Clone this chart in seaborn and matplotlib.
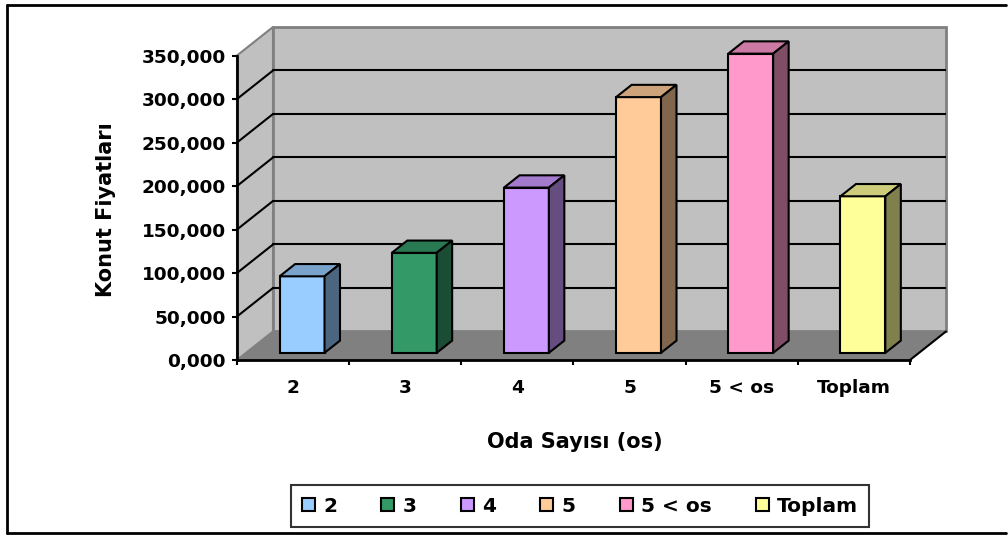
import numpy as np
import pandas as pd
import matplotlib
matplotlib.use("Agg")
import matplotlib.pyplot as plt
import seaborn as sns
from matplotlib.patches import Polygon, Rectangle, Patch
from matplotlib.lines import Line2D

# chart data
categories = ["2", "3", "4", "5", "5 < os", "Toplam"]
prices = [88000, 115000, 190000, 294000, 344000, 180000]
ytick_values = [0, 50000, 100000, 150000, 200000, 250000, 300000, 350000]
ytick_labels = ["0,000", "50,000", "100,000", "150,000", "200,000",
                "250,000", "300,000", "350,000"]
front_colors = ["#99CCFF", "#339966", "#CC99FF", "#FFCC99", "#FF99CC", "#FFFF99"]
top_colors = ["#7AA3CC", "#297A52", "#A37ACC", "#CCA37A", "#CC7AA3", "#CCCC7A"]
side_colors = ["#4D6680", "#1A4D33", "#664D80", "#80664D", "#804D66", "#80804D"]

# fake 3d geometry (in data units)
depth_x = 0.321
depth_y = 32800
bar_front = 0.25   # fraction of depth where bar front face sits
bar_depth = 0.43   # fraction of depth the bar occupies
bar_width = 0.40
ymax = ytick_values[-1]

sns.set_theme(style="white")
plt.rcParams["font.family"] = ["DejaVu Sans"]
plt.rcParams["font.weight"] = "bold"
plt.rcParams["text.color"] = "black"
plt.rcParams["axes.labelcolor"] = "black"

fig = plt.figure(figsize=(10.08, 5.35), dpi=100)
fig.patch.set_edgecolor("none")
fig.patch.set_linewidth(0)
ax = fig.add_axes([237 / 1008, 1 - 360 / 535, 709 / 1008, 333 / 535])
ax.set_facecolor("none")

df = pd.DataFrame({"Oda": categories, "Fiyat": prices})
sns.barplot(data=df, x="Oda", y="Fiyat", hue="Oda", order=categories,
            hue_order=categories, palette=dict(zip(categories, front_colors)),
            width=bar_width, errorbar=None, edgecolor="black", linewidth=1.5,
            saturation=1, legend=False, ax=ax)
bars = sorted(ax.patches, key=lambda p: p.get_x())

# shift front faces back into the floor and add top / side faces
b0 = bar_front * depth_y
ddx = bar_depth * depth_x
ddy = bar_depth * depth_y
for i, p in enumerate(bars):
    p.set_x(p.get_x() + bar_front * depth_x)
    p.set_y(b0)
    p.set_zorder(4)
    x0 = p.get_x()
    x1 = x0 + p.get_width()
    v = p.get_height()
    top = Polygon([(x0, v + b0), (x1, v + b0), (x1 + ddx, v + b0 + ddy),
                   (x0 + ddx, v + b0 + ddy)], closed=True,
                  facecolor=top_colors[i], edgecolor="black", lw=1.5, zorder=4)
    side = Polygon([(x1, b0), (x1, v + b0), (x1 + ddx, v + b0 + ddy),
                    (x1 + ddx, b0 + ddy)], closed=True,
                   facecolor=side_colors[i], edgecolor="black", lw=1.5, zorder=4)
    ax.add_patch(top)
    ax.add_patch(side)

left, right = -0.5, len(categories) - 0.5

# walls and floor
side_wall = Polygon([(left, 0), (left, ymax), (left + depth_x, ymax + depth_y),
                     (left + depth_x, depth_y)], closed=True,
                    facecolor="#C0C0C0", edgecolor="#808080", lw=1.5, zorder=0.5)
back_wall = Rectangle((left + depth_x, depth_y), right - left, ymax,
                      facecolor="#C0C0C0", edgecolor="#808080", lw=2, zorder=0.5)
floor = Polygon([(left, 0), (right, 0), (right + depth_x, depth_y),
                 (left + depth_x, depth_y)], closed=True,
                facecolor="#808080", edgecolor="none", zorder=0.6)
for patch in [side_wall, back_wall, floor]:
    patch.set_clip_on(False)
    ax.add_patch(patch)
ax.plot([right, right + depth_x], [0, depth_y], color="black", lw=1.5,
        zorder=0.7, clip_on=False)

# gridlines on back and side walls
for v in ytick_values[1:-1]:
    ax.plot([left + depth_x, right + depth_x], [v + depth_y, v + depth_y],
            color="black", lw=1.5, zorder=1)
    ax.plot([left, left + depth_x], [v, v + depth_y], color="black", lw=1.5,
            zorder=1)

ax.set_xlim(left, right + depth_x)
ax.set_ylim(0, ymax + depth_y)

# axes
for s in ["top", "right"]:
    ax.spines[s].set_visible(False)
ax.spines["left"].set_bounds(0, ymax)
ax.spines["bottom"].set_bounds(left, right)
for s in ["left", "bottom"]:
    ax.spines[s].set_color("black")
    ax.spines[s].set_linewidth(2)
    ax.spines[s].set_zorder(5)

ax.set_yticks(ytick_values, ytick_labels)
ax.set_xticks(range(len(categories)), categories)
ax.set_xticks(np.arange(left, right + 0.01, 1), minor=True)
ax.tick_params(axis="y", direction="out", length=3.6, width=1.5, pad=4.3,
               labelsize=13.3, colors="black", left=True)
ax.tick_params(axis="x", which="major", length=0, pad=14, labelsize=13.3,
               colors="black")
ax.tick_params(axis="x", which="minor", direction="out", length=3.6,
               width=1.5, color="black", bottom=True)

ax.set_xlabel("Oda Sayısı (os)", fontsize=15, fontweight="bold", color="black")
ax.set_ylabel("Konut Fiyatları", fontsize=15, fontweight="bold", color="black")
ax.xaxis.set_label_coords((575 - 237) / 709, (360 - 432) / 333)
ax.yaxis.set_label_coords((116 - 237) / 709, (360 - 209.5) / 333)

# legend
handles = [Patch(facecolor=c, edgecolor="black", lw=1.5) for c in front_colors]
leg = fig.legend(handles, categories, loc="center",
                 bbox_to_anchor=(580 / 1008, 1 - 506 / 535), ncol=6,
                 frameon=True, fancybox=False, fontsize=14.5,
                 handlelength=0.65, handleheight=0.65, handletextpad=0.4,
                 columnspacing=2.2, borderpad=0.55, borderaxespad=0)
leg.get_frame().set_edgecolor("black")
leg.get_frame().set_linewidth(1.5)
for t in leg.get_texts():
    t.set_color("black")

# outer chart border (right side is cut off in the original)
for xs, ys in [([7, 1006], [5, 5]), ([7, 7], [5, 533]), ([7, 1006], [533, 533])]:
    fig.add_artist(Line2D([x / 1008 for x in xs], [1 - y / 535 for y in ys],
                          transform=fig.transFigure, color="black", lw=2))

fig.savefig("out.png", dpi=100)
